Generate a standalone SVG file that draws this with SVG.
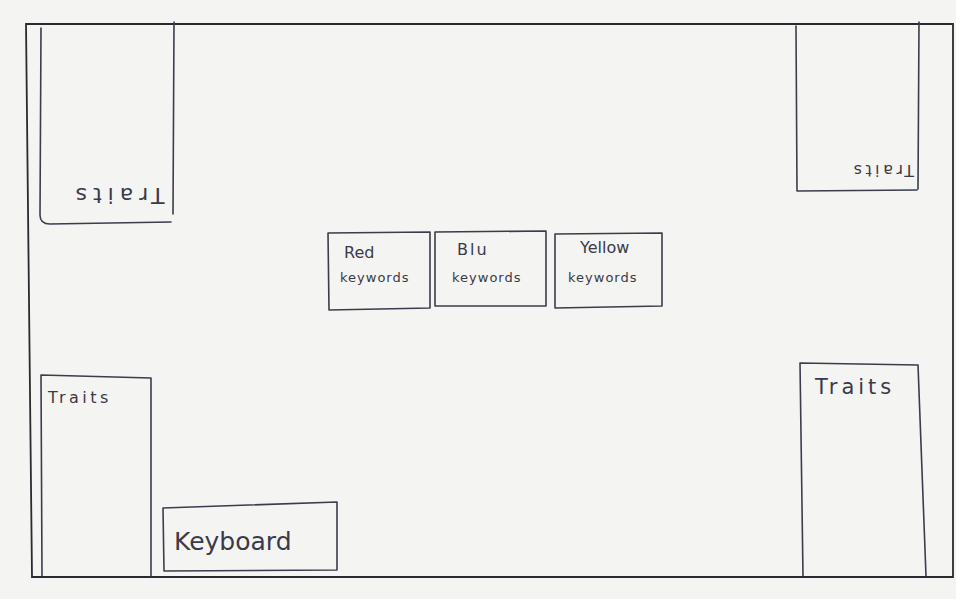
<svg xmlns="http://www.w3.org/2000/svg" width="956" height="599" viewBox="0 0 956 599">
<style>
.ln{fill:none;stroke:#3c3c4c;stroke-width:1.6;stroke-linejoin:round;stroke-linecap:round}
.fr{fill:none;stroke:#2a2a30;stroke-width:1.8}
.t{font-family:"DejaVu Sans","Liberation Sans",sans-serif;fill:#3a3a48}
.kw{font-size:13px;letter-spacing:1px}
</style>
<rect x="0" y="0" width="956" height="599" fill="#f4f4f2"/>
<g id="frame"><path class="fr" d="M26,24 L953,24 L953,577 L32,577 Z"/></g>
<g id="traits-top-left">
<path class="ln" d="M41,28 L40,215 Q40,224 50,224 L171,222 M174,22 L173,214"/>
<text class="t" x="0" y="0" font-size="22" letter-spacing="6" text-anchor="middle" transform="translate(117,188) rotate(180)">Traits</text>
</g>
<g id="traits-top-right">
<path class="ln" d="M796,26 L797,191 L917,190 M919,22 L918,189"/>
<text class="t" x="0" y="0" font-size="16" letter-spacing="3.5" text-anchor="middle" transform="translate(882,165) rotate(180)">Traits</text>
</g>
<g id="red-keywords">
<path class="ln" d="M328,233 L430,232 L430,308 L329,310 Z"/>
<text class="t" x="344" y="258" font-size="16">Red</text>
<text class="t kw" x="340" y="282">keywords</text>
</g>
<g id="blue-keywords">
<path class="ln" d="M435,232 L546,231 L546,306 L435,306 Z"/>
<text class="t" x="457" y="255" font-size="16" letter-spacing="2">Blu</text>
<text class="t kw" x="452" y="282">keywords</text>
</g>
<g id="yellow-keywords">
<path class="ln" d="M555,234 L662,233 L662,306 L555,308 Z"/>
<text class="t" x="580" y="253" font-size="16">Yellow</text>
<text class="t kw" x="568" y="282">keywords</text>
</g>
<g id="traits-bottom-left">
<path class="ln" d="M42,576 L41,375 L151,378 L151,576"/>
<text class="t" x="48" y="403" font-size="16" letter-spacing="3.5">Traits</text>
</g>
<g id="keyboard">
<path class="ln" d="M163,508 L337,502 L337,570 L164,571 Z"/>
<text class="t" x="174" y="550" font-size="25">Keyboard</text>
</g>
<g id="traits-bottom-right">
<path class="ln" d="M803,576 L800,363 L918,365 L926,576"/>
<text class="t" x="815" y="394" font-size="21" letter-spacing="4">Traits</text>
</g>
<g id="connectors"></g>
</svg>
